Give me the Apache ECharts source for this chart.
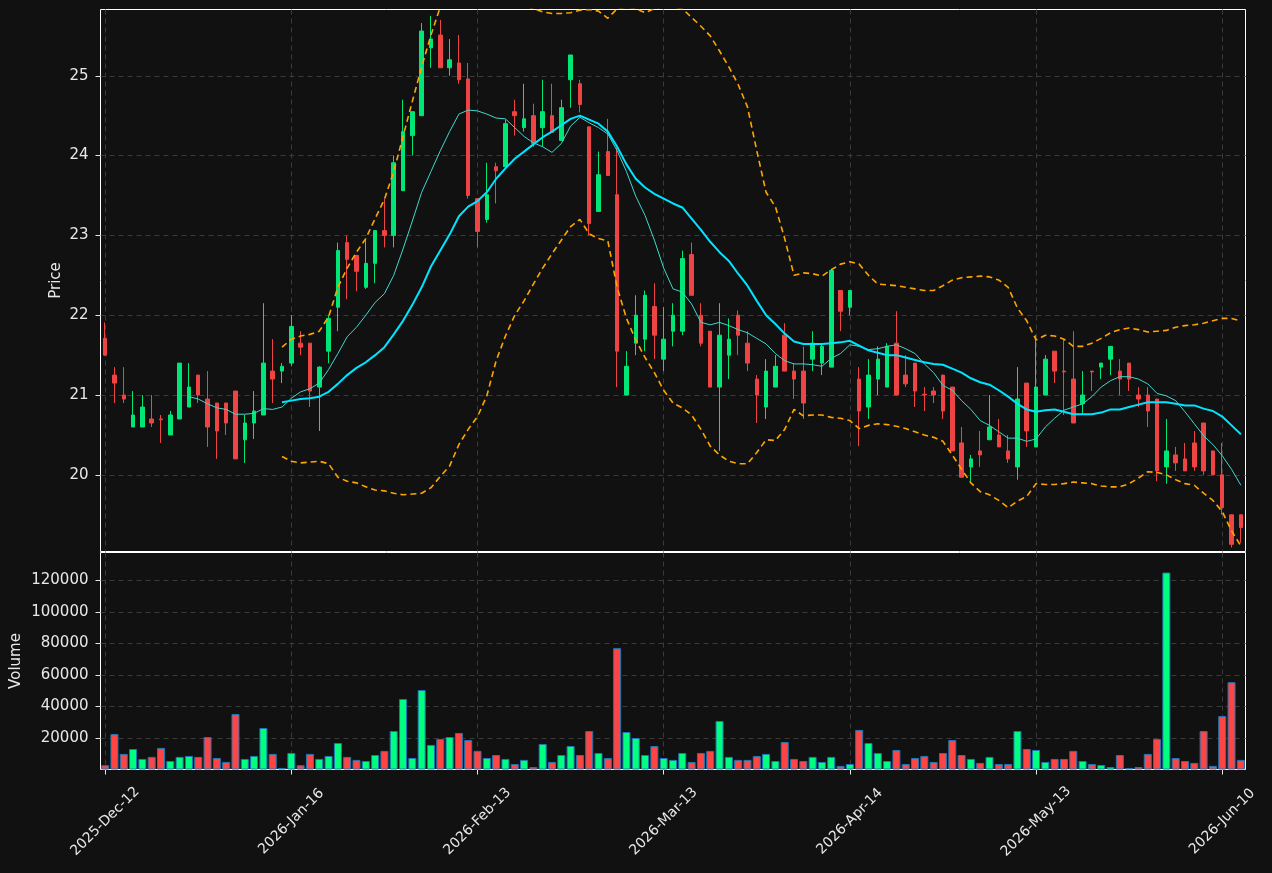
<!DOCTYPE html>
<html>
<head>
<meta charset="utf-8">
<title>Price / Volume</title>
<script src="https://cdn.jsdelivr.net/npm/echarts@6/dist/echarts.min.js"></script>
<style>
  html, body { margin: 0; padding: 0; background: #111111; }
  #chart { width: 1272px; height: 873px; }
</style>
</head>
<body>
<div id="chart"></div>
<script>
// labels shown every 20 sessions
const tickLabels = ['2025-Dec-12', '2026-Jan-16', '2026-Feb-13', '2026-Mar-13', '2026-Apr-14', '2026-May-13', '2026-Jun-10'];
const priceTicks = [20, 21, 22, 23, 24, 25];
const volumeTicks = [20000, 40000, 60000, 80000, 100000, 120000];

// OHLC, one entry per session
const opens = [
  21.71, 21.25, 21.00, 20.60, 20.60, 20.70, 20.70, 20.50, 20.70, 20.85,
  21.25, 20.95, 20.90, 20.90, 21.05, 20.44, 20.65, 20.75, 21.30, 21.30,
  21.40, 21.65, 21.65, 21.10, 21.55, 22.10, 22.91, 22.75, 22.35, 22.65,
  23.06, 23.00, 23.56, 24.25, 24.50, 25.35, 25.51, 25.10, 25.16, 24.96,
  23.46, 23.20, 23.86, 23.86, 24.55, 24.35, 24.50, 24.35, 24.50, 24.19,
  24.95, 24.90, 24.36, 23.30, 24.05, 23.51, 21.00, 21.65, 21.70, 22.11,
  21.45, 21.80, 21.80, 22.76, 22.00, 21.80, 21.10, 21.50, 22.00, 21.65,
  21.20, 20.85, 21.10, 21.75, 21.30, 21.30, 21.45, 21.40, 21.35, 22.31,
  22.10, 21.20, 20.85, 21.20, 21.10, 21.65, 21.25, 21.40, 21.01, 21.05,
  21.25, 21.10, 20.40, 20.10, 20.30, 20.44, 20.50, 20.30, 20.10, 21.15,
  20.35, 21.00, 21.55, 21.30, 21.20, 20.89, 21.30, 21.35, 21.45, 21.30,
  21.40, 21.00, 21.00, 20.95, 20.10, 20.25, 20.20, 20.40, 20.65, 20.30,
  20.00, 19.50, 19.50
];
const closes = [
  21.50, 21.15, 20.95, 20.75, 20.85, 20.65, 20.69, 20.75, 21.40, 21.10,
  21.00, 20.60, 20.55, 20.65, 20.20, 20.65, 20.80, 21.40, 21.20, 21.36,
  21.86, 21.60, 21.05, 21.35, 21.96, 22.81, 22.70, 22.55, 22.65, 23.06,
  23.00, 23.91, 24.30, 24.55, 25.56, 25.46, 25.10, 25.20, 24.95, 23.50,
  23.05, 23.51, 23.81, 24.40, 24.50, 24.46, 24.15, 24.55, 24.29, 24.60,
  25.26, 24.64, 23.15, 23.76, 23.75, 21.55, 21.36, 22.00, 22.25, 21.75,
  21.70, 22.00, 22.71, 22.25, 21.65, 21.10, 21.75, 21.70, 21.75, 21.40,
  21.00, 21.30, 21.36, 21.30, 21.20, 20.90, 21.65, 21.61, 22.56, 22.05,
  22.31, 20.80, 21.25, 21.45, 21.61, 21.00, 21.14, 21.05, 21.00, 21.00,
  20.80, 20.30, 19.97, 20.20, 20.25, 20.60, 20.35, 20.20, 20.95, 20.55,
  21.10, 21.45, 21.30, 21.29, 20.65, 21.00, 21.29, 21.40, 21.61, 21.20,
  21.20, 20.95, 20.80, 20.05, 20.30, 20.15, 20.05, 20.10, 20.05, 20.00,
  19.59, 19.13, 19.34
];
const lows = [
  21.49, 20.90, 20.90, 20.60, 20.60, 20.60, 20.40, 20.50, 20.70, 20.85,
  20.90, 20.35, 20.20, 20.50, 20.20, 20.15, 20.45, 20.75, 20.90, 21.15,
  21.36, 21.50, 20.85, 20.55, 21.40, 21.80, 22.20, 22.30, 22.33, 22.40,
  22.85, 22.85, 23.56, 24.00, 24.50, 25.10, 25.10, 25.00, 24.90, 23.46,
  22.85, 23.16, 23.40, 23.86, 24.25, 24.30, 24.11, 24.11, 24.29, 24.19,
  24.60, 24.54, 23.00, 23.30, 23.75, 21.10, 21.00, 21.50, 21.55, 21.45,
  21.30, 21.61, 21.75, 22.25, 21.61, 21.10, 20.30, 21.20, 21.50, 21.30,
  20.65, 20.70, 21.10, 21.30, 20.95, 20.70, 21.30, 21.25, 21.35, 21.80,
  22.00, 20.36, 20.70, 21.00, 21.10, 21.00, 21.10, 20.85, 20.80, 20.90,
  20.70, 20.30, 19.97, 19.92, 20.10, 20.44, 20.35, 20.15, 19.94, 20.35,
  20.35, 21.00, 21.15, 20.75, 20.65, 20.75, 21.05, 21.20, 21.25, 21.00,
  21.05, 20.85, 20.60, 19.92, 19.89, 20.05, 20.05, 20.05, 20.00, 20.00,
  19.50, 19.09, 19.15
];
const highs = [
  21.91, 21.35, 21.35, 21.05, 21.00, 21.00, 20.75, 20.80, 21.40, 21.40,
  21.25, 21.30, 20.90, 20.90, 21.05, 20.75, 21.05, 22.15, 21.70, 21.40,
  22.00, 21.80, 21.65, 21.36, 22.00, 22.91, 23.00, 22.75, 22.95, 23.06,
  23.46, 24.00, 24.70, 24.55, 25.66, 25.75, 25.70, 25.46, 25.51, 25.16,
  23.46, 23.91, 23.91, 24.45, 24.70, 24.90, 24.65, 24.95, 24.90, 24.70,
  25.26, 24.95, 24.36, 24.05, 24.46, 24.10, 21.55, 22.25, 22.31, 22.40,
  22.10, 22.15, 22.81, 22.91, 22.15, 21.80, 22.15, 21.96, 22.06, 21.80,
  21.25, 21.45, 21.50, 21.90, 21.40, 21.61, 21.80, 21.65, 22.56, 22.31,
  22.31, 21.35, 21.45, 21.61, 21.65, 22.05, 21.50, 21.40, 21.10, 21.10,
  21.25, 21.10, 20.60, 20.25, 20.55, 21.00, 20.70, 20.50, 21.35, 21.15,
  21.75, 21.50, 21.55, 21.70, 21.80, 21.30, 21.30, 21.40, 21.61, 21.45,
  21.40, 21.10, 21.10, 20.95, 20.70, 20.35, 20.40, 20.55, 20.65, 20.30,
  20.40, 19.50, 19.50
];

const volumes = [
  2700, 22500, 9900, 13000, 6700, 8000, 13700, 5400, 8000, 8600,
  8000, 20600, 7300, 4800, 35200, 6700, 8600, 26300, 9900, 1000,
  10500, 2700, 9900, 6700, 8600, 16800, 8000, 6100, 5400, 9200,
  11800, 24400, 44700, 7300, 50400, 15600, 19400, 20600, 23200, 18700,
  11800, 7300, 9200, 6700, 3500, 6100, 1600, 16200, 4800, 9200,
  14900, 9200, 24400, 10500, 7300, 77000, 23800, 20000, 9200, 14900,
  7300, 6100, 10500, 4800, 10500, 11800, 30800, 8000, 6100, 6100,
  8600, 9900, 5400, 17500, 6700, 5400, 8000, 4800, 8000, 2300,
  3500, 25100, 16800, 10500, 5400, 12400, 3500, 7300, 8600, 4800,
  10500, 18700, 9200, 6700, 4200, 8000, 3500, 3500, 24400, 13000,
  12400, 4800, 6700, 6700, 11800, 5400, 3500, 2900, 1600, 9200,
  1000, 1600, 9900, 19400, 125000, 7300, 5400, 4200, 24400, 2300,
  33900, 55400, 6100
];

// moving averages and bands as drawn
const ma10 = [
  null, null, null, null, null, null, null, null, null, 20.98,
  20.95, 20.89, 20.84, 20.82, 20.76, 20.76, 20.77, 20.83, 20.82, 20.85,
  20.96, 21.04, 21.08, 21.15, 21.32, 21.52, 21.73, 21.85, 22.00, 22.16,
  22.27, 22.50, 22.83, 23.18, 23.54, 23.80, 24.06, 24.30, 24.52, 24.57,
  24.56, 24.52, 24.47, 24.46, 24.35, 24.24, 24.16, 24.11, 24.04, 24.15,
  24.37, 24.48, 24.41, 24.35, 24.27, 24.06, 23.80, 23.49, 23.25, 22.94,
  22.59, 22.33, 22.29, 22.14, 21.91, 21.88, 21.91, 21.87, 21.82, 21.78,
  21.71, 21.64, 21.52, 21.43, 21.39, 21.39, 21.38, 21.36, 21.46, 21.52,
  21.63, 21.61, 21.57, 21.58, 21.61, 21.63, 21.58, 21.52, 21.39, 21.28,
  21.12, 21.06, 20.93, 20.82, 20.68, 20.62, 20.54, 20.46, 20.46, 20.42,
  20.45, 20.60, 20.71, 20.81, 20.85, 20.89, 20.98, 21.10, 21.18, 21.23,
  21.23, 21.20, 21.14, 21.02, 20.99, 20.93, 20.79, 20.64, 20.49, 20.38,
  20.24, 20.07, 19.87
];
const ma20 = [
  null, null, null, null, null, null, null, null, null, null,
  null, null, null, null, null, null, null, null, null, 20.91,
  20.93, 20.95, 20.96, 20.98, 21.04, 21.14, 21.25, 21.34, 21.41, 21.50,
  21.60, 21.76, 21.93, 22.13, 22.35, 22.61, 22.81, 23.01, 23.24, 23.36,
  23.43, 23.54, 23.71, 23.84, 23.96, 24.05, 24.14, 24.23, 24.30, 24.38,
  24.46, 24.50, 24.45, 24.40, 24.30, 24.11, 23.89, 23.71, 23.60, 23.52,
  23.46, 23.40, 23.35, 23.21, 23.07, 22.92, 22.79, 22.68, 22.52, 22.37,
  22.18, 22.00, 21.89, 21.77, 21.67, 21.64, 21.64, 21.64, 21.65, 21.66,
  21.68, 21.62, 21.56, 21.53, 21.50, 21.50, 21.47, 21.44, 21.41, 21.39,
  21.38, 21.33, 21.28, 21.21, 21.16, 21.13, 21.06, 20.98, 20.89, 20.82,
  20.79, 20.81, 20.82, 20.79, 20.76, 20.76, 20.76, 20.78, 20.82, 20.82,
  20.85, 20.88, 20.91, 20.91, 20.91, 20.89, 20.87, 20.87, 20.83, 20.80,
  20.73, 20.62, 20.51
];
const bandUpper = [
  null, null, null, null, null, null, null, null, null, null,
  null, null, null, null, null, null, null, null, null, 21.60,
  21.70, 21.74, 21.76, 21.80, 21.98, 22.35, 22.59, 22.79, 22.96, 23.21,
  23.45, 23.80, 24.24, 24.68, 25.11, 25.51, 25.86, 26.00, 26.10, 26.15,
  26.10, 26.05, 25.98, 25.93, 25.90, 25.88, 25.84, 25.80, 25.78, 25.78,
  25.79, 25.82, 25.83, 25.81, 25.72, 25.84, 25.86, 25.84, 25.79, 25.84,
  25.87, 25.86, 25.84, 25.73, 25.62, 25.50, 25.31, 25.11, 24.89, 24.61,
  24.06, 23.54, 23.36, 22.96, 22.50, 22.53, 22.52, 22.49, 22.57, 22.64,
  22.67, 22.64, 22.50, 22.39, 22.38, 22.37, 22.35, 22.33, 22.31, 22.31,
  22.37, 22.44, 22.47, 22.48, 22.49, 22.48, 22.44, 22.35, 22.09, 21.93,
  21.69, 21.75, 21.74, 21.70, 21.61, 21.61, 21.65, 21.71, 21.78, 21.82,
  21.84, 21.82, 21.79, 21.80, 21.81, 21.85, 21.87, 21.88, 21.90, 21.93,
  21.96, 21.96, 21.93
];
const bandLower = [
  null, null, null, null, null, null, null, null, null, null,
  null, null, null, null, null, null, null, null, null, 20.23,
  20.17, 20.15, 20.16, 20.17, 20.14, 19.97, 19.92, 19.90, 19.85, 19.81,
  19.80, 19.77, 19.75, 19.76, 19.77, 19.84, 19.98, 20.11, 20.38, 20.57,
  20.73, 20.99, 21.43, 21.74, 22.00, 22.18, 22.39, 22.59, 22.77, 22.94,
  23.11, 23.20, 23.02, 22.96, 22.93, 22.35, 21.96, 21.69, 21.47, 21.28,
  21.06, 20.90, 20.84, 20.75, 20.57, 20.36, 20.25, 20.17, 20.14, 20.14,
  20.28, 20.44, 20.43, 20.57, 20.82, 20.74, 20.75, 20.75, 20.72, 20.71,
  20.68, 20.58, 20.62, 20.64, 20.63, 20.61, 20.58, 20.54, 20.50, 20.47,
  20.42, 20.25, 20.07, 19.90, 19.79, 19.75, 19.68, 19.59, 19.67, 19.73,
  19.89, 19.88, 19.88, 19.89, 19.91, 19.90, 19.89, 19.86, 19.85, 19.85,
  19.89, 19.96, 20.04, 20.03, 20.00, 19.94, 19.89, 19.87, 19.77, 19.68,
  19.54, 19.30, 19.11
];

const upColor = '#00e676';
const downColor = '#ef4444';
const volUp = '#00ff7f';
const volDown = '#ff4444';
const textColor = '#e8e8e8';
const gridLine = { color: '#3a3a3a', type: [5, 4], width: 1 };

const categories = opens.map((_, i) => String(i));
const candles = opens.map((o, i) => [o, closes[i], lows[i], highs[i]]);
const volBars = volumes.map((v, i) => ({
  value: v,
  itemStyle: { color: closes[i] >= opens[i] ? volUp : volDown }
}));
const everyTwenty = (index) => index % 20 === 0;

const myChart = echarts.init(document.getElementById('chart'));
const option = {
  backgroundColor: '#111111',
  animation: false,
  textStyle: { fontFamily: 'DejaVu Sans' },
  grid: [
    { left: 100.5, width: 1145, top: 9.5, height: 542, show: true, backgroundColor: '#111111',
      borderColor: '#ffffff', borderWidth: 1, outerBoundsMode: 'none' },
    { left: 100.5, width: 1145, top: 552.5, height: 217, show: true, backgroundColor: '#111111',
      borderColor: '#ffffff', borderWidth: 1, outerBoundsMode: 'none' }
  ],
  xAxis: [
    {
      type: 'category', gridIndex: 0, data: categories, boundaryGap: true,
      axisLine: { show: false }, axisTick: { show: false }, axisLabel: { show: false },
      splitLine: { show: true, interval: everyTwenty, alignWithLabel: true, lineStyle: gridLine }
    },
    {
      type: 'category', gridIndex: 1, data: categories, boundaryGap: true,
      axisLine: { show: false },
      axisTick: { show: true, interval: everyTwenty, alignWithLabel: true, length: 5, lineStyle: { color: textColor } },
      axisLabel: {
        interval: everyTwenty, rotate: 45, align: 'center', verticalAlign: 'middle',
        margin: 52, color: textColor, fontSize: 14,
        formatter: (v, idx) => tickLabels[idx / 20]
      },
      splitLine: { show: true, interval: everyTwenty, alignWithLabel: true, lineStyle: gridLine }
    }
  ],
  yAxis: [
    {
      type: 'value', gridIndex: 0, min: 19.04, max: 25.83,
      name: 'Price', nameLocation: 'middle', nameGap: 37, nameRotate: 90, nameMoveOverlap: false,
      nameTextStyle: { color: textColor, fontSize: 15 },
      axisLine: { show: false },
      axisTick: { show: true, length: 5, customValues: priceTicks, lineStyle: { color: textColor } },
      axisLabel: { color: textColor, fontSize: 15, margin: 12, customValues: priceTicks,
        formatter: (v) => String(v) },
      splitLine: { show: true, lineStyle: gridLine }
    },
    {
      type: 'value', gridIndex: 1, min: 0, max: 137700,
      name: 'Volume', nameLocation: 'middle', nameGap: 77, nameRotate: 90, nameMoveOverlap: false,
      nameTextStyle: { color: textColor, fontSize: 15 },
      axisLine: { show: false },
      axisTick: { show: true, length: 5, customValues: volumeTicks, lineStyle: { color: textColor } },
      axisLabel: { color: textColor, fontSize: 15, margin: 12, customValues: volumeTicks,
        formatter: (v) => String(v) },
      splitLine: { show: true, lineStyle: gridLine }
    }
  ],
  series: [
    {
      name: 'OHLC', type: 'candlestick', xAxisIndex: 0, yAxisIndex: 0,
      data: candles, barWidth: 4,
      itemStyle: { color: upColor, color0: downColor, borderColor: upColor, borderColor0: downColor, borderWidth: 1 }
    },
    {
      name: 'MA10', type: 'line', xAxisIndex: 0, yAxisIndex: 0, data: ma10,
      showSymbol: false, z: 3, lineStyle: { color: '#40d8cc', width: 1 }
    },
    {
      name: 'MA20', type: 'line', xAxisIndex: 0, yAxisIndex: 0, data: ma20,
      showSymbol: false, z: 3, lineStyle: { color: '#00e5ff', width: 2 }
    },
    {
      name: 'Upper', type: 'line', xAxisIndex: 0, yAxisIndex: 0, data: bandUpper,
      showSymbol: false, z: 3, lineStyle: { color: '#ffa500', width: 1.6, type: [6, 4] }
    },
    {
      name: 'Lower', type: 'line', xAxisIndex: 0, yAxisIndex: 0, data: bandLower,
      showSymbol: false, z: 3, lineStyle: { color: '#ffa500', width: 1.6, type: [6, 4] }
    },
    {
      name: 'Volume', type: 'bar', xAxisIndex: 1, yAxisIndex: 1, data: volBars,
      barWidth: 8, itemStyle: { borderColor: '#1f77b4', borderWidth: 1 }
    }
  ]
};
myChart.setOption(option);
</script>
</body>
</html>
